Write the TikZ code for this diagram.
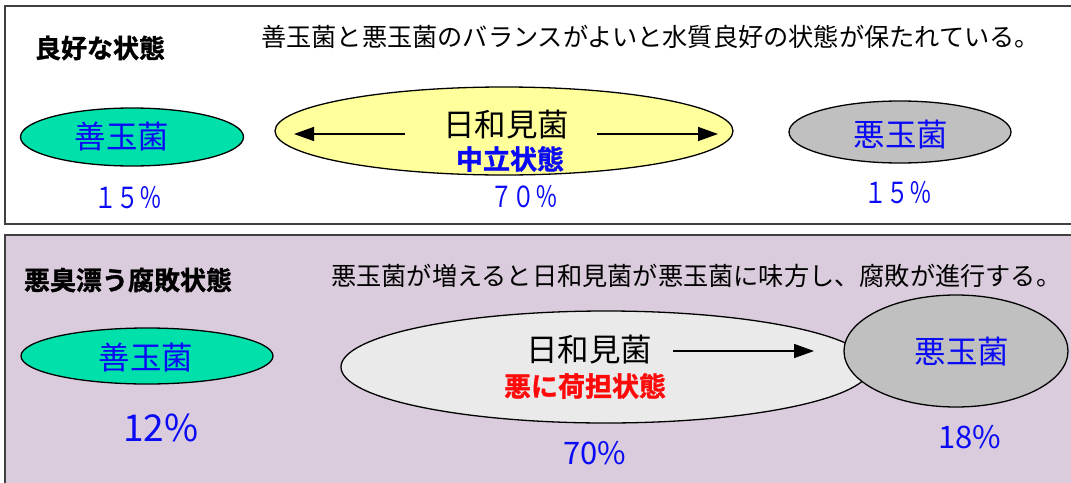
\documentclass[tikz,border=0pt]{standalone}
\usepackage{fontspec}
\setmainfont{Noto Sans CJK JP}[BoldFont={* Bold}]
\newfontface\heavy{Noto Sans CJK JP Bold}[FakeBold=1.2]
\usetikzlibrary{shapes.geometric,arrows.meta}
\definecolor{boxline}{HTML}{404040}
\definecolor{lilac}{HTML}{DACCDC}
\definecolor{goodfill}{HTML}{00E0AA}
\definecolor{neutralfill}{HTML}{FFFF9C}
\definecolor{badfill}{HTML}{C0C0C0}
\definecolor{sidefill}{HTML}{EAEAEA}
\definecolor{txtblue}{HTML}{0A0AF5}
\definecolor{txtred}{HTML}{FF0A0A}
\tikzset{
  panel/.style={draw=boxline, line width=1.6pt},
  germ/.style={ellipse, draw=black, line width=1.3pt, inner sep=0pt},
  title/.style={font=\fontsize{26}{26}\heavy, inner sep=0pt},
  sentence/.style={font=\fontsize{25.2}{25.2}\selectfont, inner sep=0pt, anchor=west},
  germtxt/.style={font=\fontsize{31.5}{31.5}\selectfont, inner sep=0pt},
  statetxt/.style={font=\fontsize{27}{27}\heavy, inner sep=0pt},
  pctA/.style={font=\fontsize{29}{29}\selectfont, text=txtblue, inner sep=0pt},
  pctB/.style={font=\fontsize{37}{37}\selectfont, text=txtblue, inner sep=0pt},
  pctC/.style={font=\fontsize{31}{31}\selectfont, text=txtblue, inner sep=0pt},
  flow/.style={-{Triangle[length=20pt,width=14pt]}, line width=1.5pt},
}
\begin{document}
\begin{tikzpicture}[x=1pt,y=-1pt]
\clip (0,0) rectangle (1071,482);
\fill[white] (0,0) rectangle (1071,482);
% panels
\draw[panel] (5,6) rectangle (1085,224);
\draw[panel, fill=lilac] (5,235) rectangle (1085,495);

% ---- top panel ----
\node[title] (t1) at (100,48) {良好な状態};
\node[sentence] (s1) at (261,37) {善玉菌と悪玉菌のバランスがよいと水質良好の状態が保たれている。};

\node[germ, fill=goodfill, minimum width=223pt, minimum height=58pt] (g1) at (132,137) {};
\node[germtxt, text=txtblue] (g1t) at (122,137) {善玉菌};

\node[germ, fill=neutralfill, minimum width=458pt, minimum height=88pt] (n1) at (504,131) {};
\node[germtxt] (n1t) at (506,125) {日和見菌};
\node[statetxt, text=txtblue] (n1s) at (510,159) {中立状態};

\node[germ, fill=badfill, minimum width=222pt, minimum height=62pt] (b1) at (900,132) {};
\node[germtxt, text=txtblue] (b1t) at (901,135) {悪玉菌};

\coordinate (la1) at (405,134);
\coordinate (la2) at (294,134);
\coordinate (ra1) at (597,134);
\coordinate (ra2) at (718,134);
\draw[flow] (la1) -- (la2);
\draw[flow] (ra1) -- (ra2);

\node[pctA] (p1) at (128,198) {\scalebox{0.78}[1]{１５％}};
\node[pctA] (p2) at (524,197) {\scalebox{0.78}[1]{７０％}};
\node[pctA] (p3) at (898,193) {\scalebox{0.78}[1]{１５％}};

% ---- bottom panel ----
\node[title] (t2) at (128,280) {悪臭漂う腐敗状態};
\node[sentence] (s2) at (331,276) {悪玉菌が増えると日和見菌が悪玉菌に味方し、腐敗が進行する。};

\node[germ, fill=goodfill, minimum width=252pt, minimum height=56pt] (g2) at (147,356) {};
\node[germtxt, text=txtblue] (g2t) at (146,358) {善玉菌};

\node[germ, fill=sidefill, minimum width=530pt, minimum height=112pt] (n2) at (606,367) {};
\node[germtxt] (n2t) at (589,350) {日和見菌};
\node[statetxt, text=txtred] (n2s) at (585,386) {悪に荷担状態};

\node[germ, fill=badfill, minimum width=224pt, minimum height=112pt] (b2) at (956,351) {};
\node[germtxt, text=txtblue] (b2t) at (962,352) {悪玉菌};

\coordinate (ba1) at (673,351);
\coordinate (ba2) at (814,351);
\draw[flow] (ba1) -- (ba2);

\node[pctB] (p4) at (161,428) {12\%};
\node[pctC] (p5) at (595,453) {70\%};
\node[pctC] (p6) at (970,437) {18\%};
\end{tikzpicture}
\end{document}
